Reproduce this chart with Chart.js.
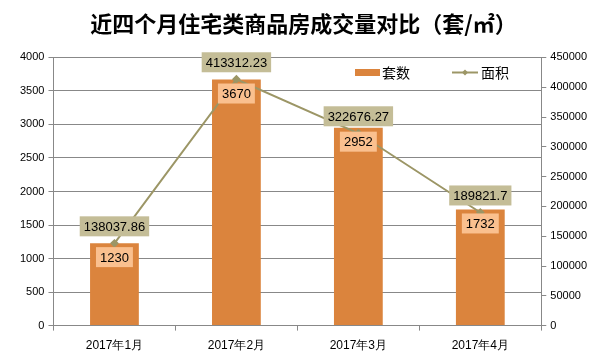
<!DOCTYPE html>
<html>
<head>
<meta charset="utf-8">
<script src="https://cdn.jsdelivr.net/npm/chart.js@4"></script>
<style>
  html, body { margin: 0; padding: 0; background: #fff; }
  #wrap { width: 603px; height: 361px; position: relative; }
</style>
</head>
<body>
<div id="wrap"><canvas id="chart" width="603" height="361"></canvas></div>
<script>
const months = ['2017年1月', '2017年2月', '2017年3月', '2017年4月'];
const units = [1230, 3670, 2952, 1732];            // 套数
const areas = [138037.86, 413312.23, 322676.27, 189821.7]; // 面积
const areaLabels = ['138037.86', '413312.23', '322676.27', '189821.7'];

const barColor = '#DB843D';
const lineColor = '#9C9666';
const tickFont = { family: 'Liberation Sans', size: 11 };

// draws the data label boxes
const labelBoxes = {
  id: 'labelBoxes',
  afterDatasetsDraw(chart) {
    const ctx = chart.ctx;
    ctx.save();
    ctx.font = '13px "Liberation Sans"';
    ctx.textAlign = 'center';
    ctx.textBaseline = 'middle';

    // bar labels, inside the top of each bar
    chart.getDatasetMeta(0).data.forEach((bar, i) => {
      const txt = String(units[i]);
      const w = ctx.measureText(txt).width + 8;
      const h = 20;
      const top = bar.y + 4;
      ctx.fillStyle = '#FAC08F';
      ctx.fillRect(bar.x - w / 2, top, w, h);
      ctx.fillStyle = '#000';
      ctx.fillText(txt, bar.x, top + h / 2 + 1);
    });

    // line labels, above each point
    chart.getDatasetMeta(1).data.forEach((pt, i) => {
      const txt = areaLabels[i];
      const w = ctx.measureText(txt).width + 8;
      const h = 20;
      const top = pt.y - 7 - h;
      ctx.fillStyle = '#C4BD97';
      ctx.fillRect(pt.x - w / 2, top, w, h);
      ctx.fillStyle = '#000';
      ctx.fillText(txt, pt.x, top + h / 2 + 1);
    });
    ctx.restore();
  }
};

// legend inside the plot, top right
const innerLegend = {
  id: 'innerLegend',
  afterDraw(chart) {
    const ctx = chart.ctx;
    ctx.save();
    ctx.font = '14px "Noto Sans CJK SC"';
    ctx.textBaseline = 'middle';
    ctx.fillStyle = barColor;
    ctx.fillRect(355, 69, 25, 7);
    ctx.fillStyle = '#000';
    ctx.fillText('套数', 382, 73);

    ctx.strokeStyle = lineColor;
    ctx.lineWidth = 2;
    ctx.beginPath();
    ctx.moveTo(452, 72.5);
    ctx.lineTo(478, 72.5);
    ctx.stroke();
    ctx.fillStyle = lineColor;
    ctx.beginPath();
    ctx.moveTo(465, 69.5); ctx.lineTo(468, 72.5); ctx.lineTo(465, 75.5); ctx.lineTo(462, 72.5);
    ctx.closePath();
    ctx.fill();
    ctx.fillStyle = '#000';
    ctx.fillText('面积', 481, 73);
    ctx.restore();
  }
};

new Chart(document.getElementById('chart'), {
  data: {
    labels: months,
    datasets: [
      {
        type: 'bar',
        label: '套数',
        data: units,
        backgroundColor: barColor,
        yAxisID: 'y',
        barPercentage: 0.8,
        categoryPercentage: 0.5,
        order: 2
      },
      {
        type: 'line',
        label: '面积',
        data: areas,
        borderColor: lineColor,
        backgroundColor: lineColor,
        borderWidth: 2,
        pointStyle: 'rectRot',
        pointRadius: 3,
        yAxisID: 'y1',
        order: 1
      }
    ]
  },
  options: {
    responsive: false,
    animation: false,
    layout: { padding: { top: 10, left: 16, right: 12, bottom: 0 } },
    plugins: {
      legend: { display: false },
      tooltip: { enabled: false },
      title: {
        display: true,
        text: '近四个月住宅类商品房成交量对比（套/㎡）',
        color: '#000',
        font: { family: 'Noto Sans CJK SC', size: 22, weight: 'bold' },
        padding: { top: 0, bottom: 21 }
      }
    },
    scales: {
      x: {
        grid: { drawOnChartArea: false, drawTicks: true, tickLength: 5, color: '#888' },
        border: { color: '#888' },
        ticks: { color: '#000', font: { family: 'Liberation Sans', size: 12 }, padding: 8 }
      },
      y: {
        position: 'left',
        min: 0, max: 4000,
        ticks: { stepSize: 500, color: '#000', font: tickFont, padding: 4, callback: v => String(v) },
        grid: { color: '#888', tickLength: 5 },
        border: { color: '#888' }
      },
      y1: {
        position: 'right',
        min: 0, max: 450000,
        ticks: { stepSize: 50000, color: '#000', font: tickFont, padding: 4, callback: v => String(v) },
        grid: { drawOnChartArea: false, color: '#888', tickLength: 5 },
        border: { color: '#888' }
      }
    }
  },
  plugins: [labelBoxes, innerLegend]
});
</script>
</body>
</html>
